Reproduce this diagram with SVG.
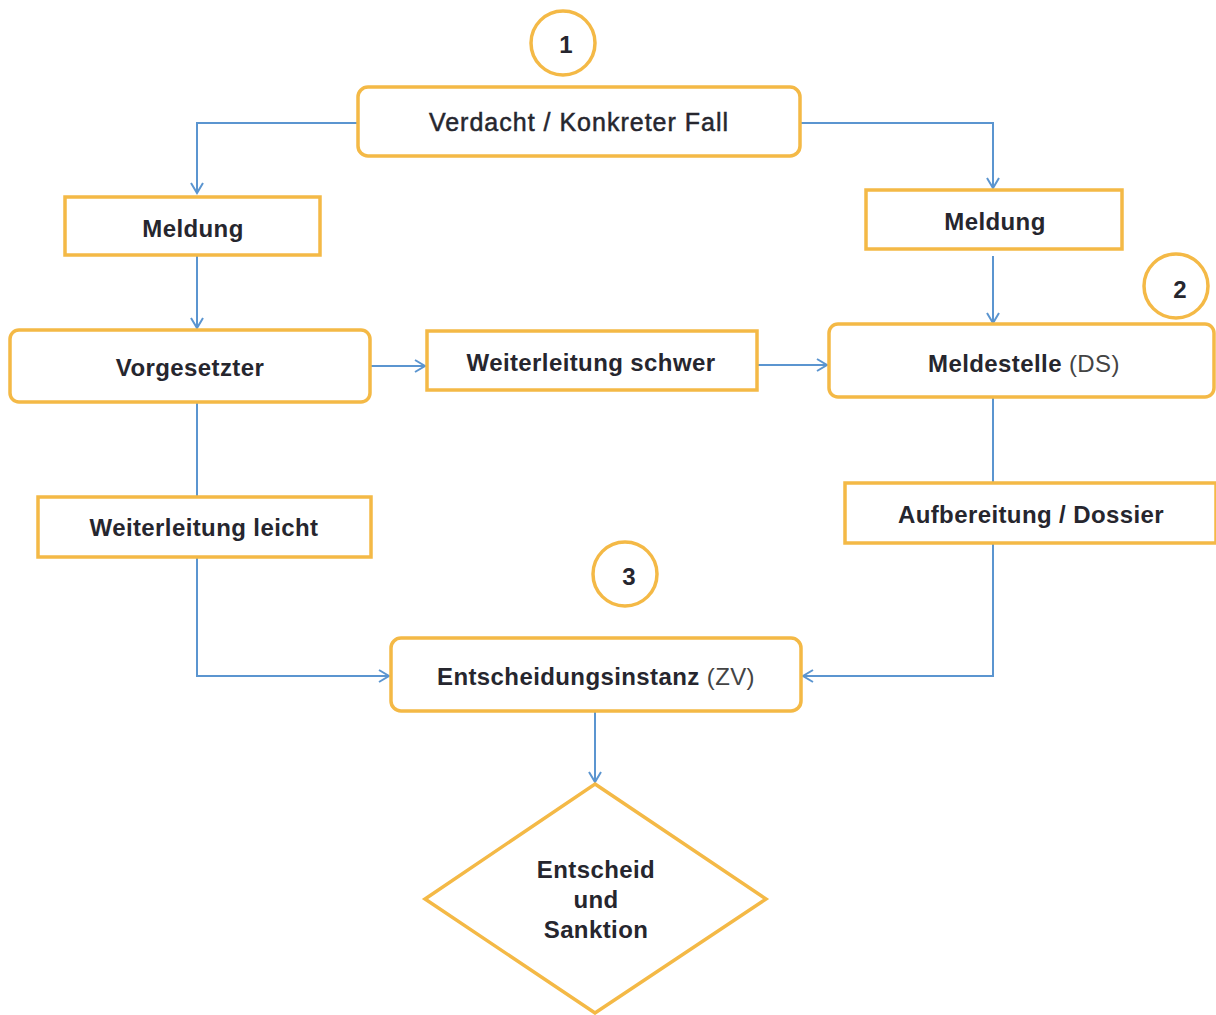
<svg xmlns="http://www.w3.org/2000/svg" width="1216" height="1015" viewBox="0 0 1216 1015">
<defs>
<marker id="arr" markerWidth="16" markerHeight="16" refX="12" refY="8" orient="auto" markerUnits="userSpaceOnUse">
<path d="M2,2 L12,8 L2,14" fill="none" stroke="#5b95d0" stroke-width="2"/>
</marker>
<style>
.box{fill:#fff;stroke:#f4b946;stroke-width:3.5}
.t{font-family:"Liberation Sans",Arial,sans-serif;font-size:24px;fill:#26262e;text-anchor:middle;letter-spacing:0.4px}
.b{font-weight:bold}
.r{font-weight:normal;fill:#444}
.c{fill:none;stroke:#5b95d0;stroke-width:2}
</style>
</defs>
<rect width="1216" height="1015" fill="#fff"/>
<g id="connectors">
<path class="c" d="M358,123 H197 V193" marker-end="url(#arr)"/>
<path class="c" d="M800,123 H993 V188" marker-end="url(#arr)"/>
<path class="c" d="M197,256 V328" marker-end="url(#arr)"/>
<path class="c" d="M993,256 V323" marker-end="url(#arr)"/>
<path class="c" d="M371,366 H425" marker-end="url(#arr)"/>
<path class="c" d="M757,365 H827" marker-end="url(#arr)"/>
<path class="c" d="M197,403 V497"/>
<path class="c" d="M197,557 V676 H389" marker-end="url(#arr)"/>
<path class="c" d="M993,398 V483"/>
<path class="c" d="M993,543 V676 H803" marker-end="url(#arr)"/>
<path class="c" d="M595,712 V782" marker-end="url(#arr)"/>
</g>
<g id="circle1"><circle class="box" cx="563" cy="43" r="32"/><text class="t b" x="566" y="53">1</text></g>
<g id="verdacht"><rect class="box" x="358" y="87" width="442" height="69" rx="10"/><text class="t" x="579" y="131" style="font-size:25px;letter-spacing:1px;stroke:#26262e;stroke-width:0.5">Verdacht / Konkreter Fall</text></g>
<g id="meldung-links"><rect class="box" x="65" y="197" width="255" height="58"/><text class="t b" x="193" y="237">Meldung</text></g>
<g id="meldung-rechts"><rect class="box" x="866" y="190" width="256" height="59"/><text class="t b" x="995" y="230">Meldung</text></g>
<g id="circle2"><circle class="box" cx="1176" cy="286" r="32"/><text class="t b" x="1180" y="298">2</text></g>
<g id="vorgesetzter"><rect class="box" x="10" y="330" width="360" height="72" rx="9"/><text class="t b" x="190" y="376">Vorgesetzter</text></g>
<g id="weiterleitung-schwer"><rect class="box" x="427" y="331" width="330" height="59"/><text class="t b" x="591" y="371">Weiterleitung schwer</text></g>
<g id="meldestelle"><rect class="box" x="829" y="324" width="385" height="73" rx="9"/><text class="t" x="1024" y="372"><tspan class="b">Meldestelle </tspan><tspan class="r">(DS)</tspan></text></g>
<g id="weiterleitung-leicht"><rect class="box" x="38" y="497" width="333" height="60"/><text class="t b" x="204" y="536">Weiterleitung leicht</text></g>
<g id="aufbereitung"><rect class="box" x="845" y="483" width="371" height="60"/><text class="t b" x="1031" y="523">Aufbereitung / Dossier</text></g>
<g id="circle3"><circle class="box" cx="625" cy="574" r="32"/><text class="t b" x="629" y="585">3</text></g>
<g id="entscheidungsinstanz"><rect class="box" x="391" y="638" width="410" height="73" rx="10"/><text class="t" x="596" y="685"><tspan class="b">Entscheidungsinstanz </tspan><tspan class="r">(ZV)</tspan></text></g>
<g id="entscheid"><polygon class="box" points="595,784 766,899 595,1013 425,899"/><text class="t b" x="596" y="878">Entscheid</text><text class="t b" x="596" y="908">und</text><text class="t b" x="596" y="938">Sanktion</text></g>
</svg>
